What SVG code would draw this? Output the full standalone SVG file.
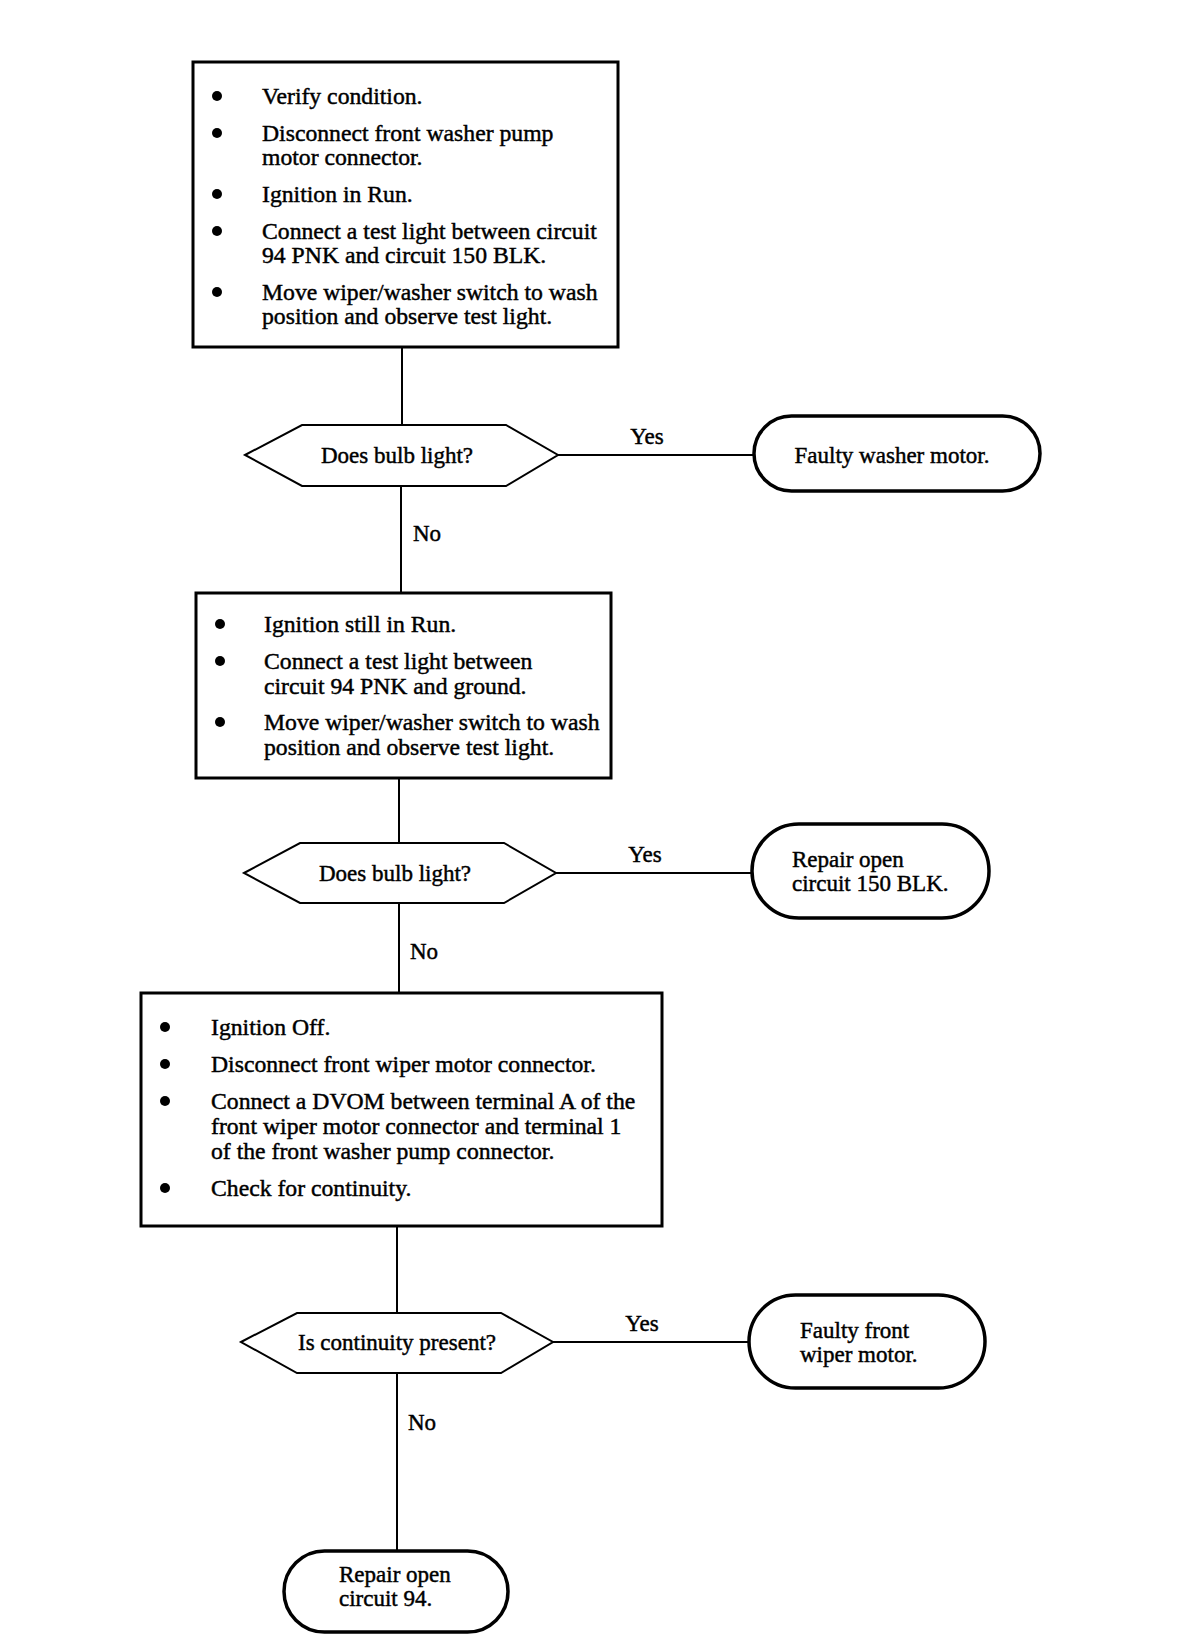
<svg xmlns="http://www.w3.org/2000/svg" width="1184" height="1652" viewBox="0 0 1184 1652">
<style>
text{font-family:"Liberation Serif","Times New Roman",serif;font-size:23px;fill:#000;stroke:#000;stroke-width:0.45}
.bt{font-size:23.7px}
.box{fill:#fff;stroke:#000;stroke-width:3}
.dec{fill:#fff;stroke:#000;stroke-width:2}
.term{fill:#fff;stroke:#000;stroke-width:3.5}
.con{stroke:#000;stroke-width:2;fill:none}
.mid{text-anchor:middle}
</style>
<rect width="1184" height="1652" fill="#fff"/>
<g id="connectors">
<line class="con" x1="402" y1="347" x2="402" y2="425"/>
<line class="con" x1="558" y1="455" x2="754" y2="455"/>
<line class="con" x1="401" y1="486" x2="401" y2="593"/>
<line class="con" x1="399" y1="778" x2="399" y2="843"/>
<line class="con" x1="556" y1="873" x2="752" y2="873"/>
<line class="con" x1="399" y1="903" x2="399" y2="993"/>
<line class="con" x1="397" y1="1226" x2="397" y2="1313"/>
<line class="con" x1="553" y1="1342" x2="749" y2="1342"/>
<line class="con" x1="397" y1="1373" x2="397" y2="1551"/>
<text x="647" y="444" class="mid">Yes</text>
<text x="413" y="541">No</text>
<text x="645" y="862" class="mid">Yes</text>
<text x="410" y="959">No</text>
<text x="642" y="1331" class="mid">Yes</text>
<text x="408" y="1430">No</text>
</g>
<g id="box1" class="bt">
<rect class="box" x="193" y="62" width="425" height="285"/>
<circle cx="217" cy="96" r="5"/><text class="bt" x="262" y="104">Verify condition.</text>
<circle cx="217" cy="133" r="5"/><text class="bt" x="262" y="141">Disconnect front washer pump</text><text class="bt" x="262" y="165">motor connector.</text>
<circle cx="217" cy="194" r="5"/><text class="bt" x="262" y="202">Ignition in Run.</text>
<circle cx="217" cy="231" r="5"/><text class="bt" x="262" y="239">Connect a test light between circuit</text><text class="bt" x="262" y="263">94 PNK and circuit 150 BLK.</text>
<circle cx="217" cy="292" r="5"/><text class="bt" x="262" y="300">Move wiper/washer switch to wash</text><text class="bt" x="262" y="324">position and observe test light.</text>
</g>
<g id="dec1">
<polygon class="dec" points="245,455 302,425 506,425 558,455 506,486 302,486"/>
<text x="397" y="463" class="mid">Does bulb light?</text>
</g>
<g id="term1">
<rect class="term" x="754" y="416" width="286" height="75" rx="37.5"/>
<text x="892" y="463" class="mid">Faulty washer motor.</text>
</g>
<g id="box2">
<rect class="box" x="196" y="593" width="415" height="185"/>
<circle cx="220" cy="624" r="5"/><text class="bt" x="264" y="632">Ignition still in Run.</text>
<circle cx="220" cy="661" r="5"/><text class="bt" x="264" y="669">Connect a test light between</text><text class="bt" x="264" y="694">circuit 94 PNK and ground.</text>
<circle cx="220" cy="722" r="5"/><text class="bt" x="264" y="730">Move wiper/washer switch to wash</text><text class="bt" x="264" y="755">position and observe test light.</text>
</g>
<g id="dec2">
<polygon class="dec" points="244,873 300,843 504,843 556,873 504,903 300,903"/>
<text x="395" y="881" class="mid">Does bulb light?</text>
</g>
<g id="term2">
<rect class="term" x="752" y="824" width="237" height="94" rx="47"/>
<text x="792" y="867">Repair open</text>
<text x="792" y="891">circuit 150 BLK.</text>
</g>
<g id="box3">
<rect class="box" x="141" y="993" width="521" height="233"/>
<circle cx="165" cy="1027" r="5"/><text class="bt" x="211" y="1035">Ignition Off.</text>
<circle cx="165" cy="1064" r="5"/><text class="bt" x="211" y="1072">Disconnect front wiper motor connector.</text>
<circle cx="165" cy="1101" r="5"/><text class="bt" x="211" y="1109">Connect a DVOM between terminal A of the</text><text class="bt" x="211" y="1134">front wiper motor connector and terminal 1</text><text class="bt" x="211" y="1159">of the front washer pump connector.</text>
<circle cx="165" cy="1188" r="5"/><text class="bt" x="211" y="1196">Check for continuity.</text>
</g>
<g id="dec3">
<polygon class="dec" points="241,1342 297,1313 501,1313 553,1342 501,1373 297,1373"/>
<text x="397" y="1350" class="mid">Is continuity present?</text>
</g>
<g id="term3">
<rect class="term" x="749" y="1295" width="236" height="93" rx="46.5"/>
<text x="800" y="1338">Faulty front</text>
<text x="800" y="1362">wiper motor.</text>
</g>
<g id="term4">
<rect class="term" x="284" y="1551" width="224" height="81" rx="40.5"/>
<text x="339" y="1582">Repair open</text>
<text x="339" y="1606">circuit 94.</text>
</g>
</svg>
